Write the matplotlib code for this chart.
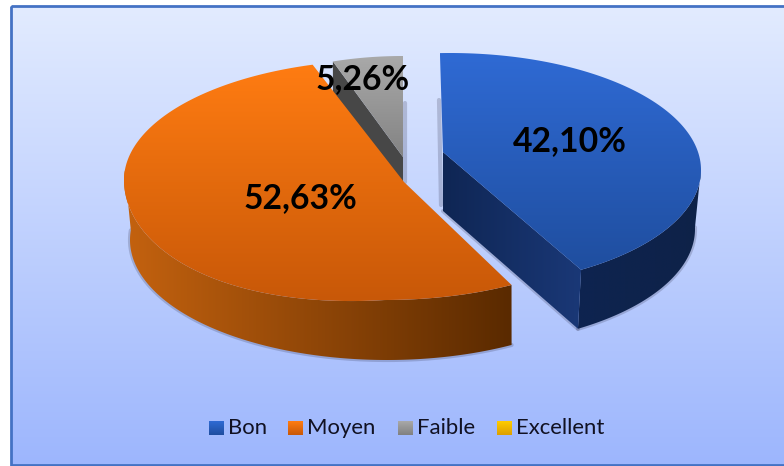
import matplotlib
matplotlib.use('Agg')
import matplotlib.pyplot as plt
from matplotlib.colors import to_rgb
from matplotlib.patches import Polygon, Rectangle
import numpy as np

labels = ['Bon', 'Moyen', 'Faible', 'Excellent']
shares = [42.10, 52.63, 5.26, 0.0]

plt.rcParams['font.family'] = ['Lato', 'DejaVu Sans']

W, H = 784, 466
fig = plt.figure(figsize=(W / 100, H / 100), dpi=100)
ax = fig.add_axes([0, 0, 1, 1])
ax.set_xlim(0, W)
ax.set_ylim(H, 0)
ax.axis('off')


def grad_fill(pts, c1, c2, vertical=True, z=1):
    # gradient image clipped by a polygon
    pts = np.asarray(pts)
    x0, x1 = pts[:, 0].min(), pts[:, 0].max()
    y0, y1 = pts[:, 1].min(), pts[:, 1].max()
    t = np.linspace(0, 1, 128)[:, None]
    img = np.array(to_rgb(c1)) * (1 - t) + np.array(to_rgb(c2)) * t
    img = img[:, None, :] if vertical else img[None, :, :]
    im = ax.imshow(img, extent=[x0, x1, y1, y0], aspect='auto', zorder=z, interpolation='bilinear')
    clip = Polygon(pts, closed=True, transform=ax.transData, fc='none', ec='none')
    ax.add_patch(clip)
    im.set_clip_path(clip)
    ax.set_xlim(0, W)
    ax.set_ylim(H, 0)


def rim(t0, t1, cx, cy, R, S, p0=0, s=1, bulge=0):
    # t in degrees clockwise from 12 o'clock, p0 and s fake the perspective of the disc
    p = p0 + s * np.linspace(t0, t1, 200)
    t = np.radians(p)
    y = cy - S * np.cos(t)
    # front left of the big slice sags a bit below the ellipse
    y = y + bulge * np.where((p > 180) & (p < 270), np.sin(2 * (t - np.pi)), 0)
    return np.column_stack([cx + R * np.sin(t), y])


def soft_edge(pts, z):
    ax.plot(pts[:, 0], pts[:, 1], color='#30304a', alpha=0.22, lw=3, zorder=z, solid_capstyle='round')


# slice angles from the shares
edges = np.cumsum([0] + shares) / sum(shares) * 360

# background panel
bg = [(11, 6), (W, 6), (W, 465), (11, 465)]
grad_fill(bg, '#e2ebff', '#9db6fd', z=0)
ax.add_patch(Rectangle((11, 6), W, 459, fc='none', ec='#4472c4', lw=2, zorder=0.5))

# Faible
g = dict(cx=403, cy=157, R=216, S=101)
g_rim = rim(edges[2], edges[3], **g)
apex = np.array([[403, 157]])
depth = 58
wall = np.vstack([apex, g_rim[:1], g_rim[:1] + [0, depth], apex + [0, depth]])
soft_edge(np.array([[405, 103], [405, 182]]), 1.5)
ax.add_patch(Polygon(wall, fc='#474747', ec='none', zorder=2))
grad_fill(np.vstack([apex, g_rim]), '#a9a9a9', '#838383', z=3)

# Moyen
m = dict(cx=385, cy=180, R=261, S=120, p0=-3.3, s=1.018)
m_low = dict(cx=387, cy=180, R=257, S=120, p0=-3.3, s=1.018)
m_rim = rim(edges[1], edges[2], bulge=8, **m)
front = rim(edges[1], 273, bulge=8, **m)
low = rim(edges[1], 273, **m_low) + [0, 60]
wall = np.vstack([front, low[::-1]])
soft_edge(low, 3.5)
grad_fill(wall, '#c4620f', '#5a2a00', vertical=False, z=4)
grad_fill(np.vstack([[404, 182], m_rim]), '#ff7c12', '#c85808', z=5)

# Bon
b = dict(cx=450, cy=170, R=251, S=117, p0=-2.3, s=0.995)
b_low = dict(cx=450, cy=170, R=245, S=117, p0=-2.3, s=0.995)
b_rim = rim(edges[0], edges[1], **b)
apex = np.array([[443, 152]])
depth = 59
front = rim(92, edges[1], **b)
low = rim(92, edges[1], **b_low) + [0, depth]
wall = np.vstack([front, low[::-1]])
soft_edge(low, 5.5)
soft_edge(np.array([[439, 100], [441, 205]]), 5.5)
grad_fill(wall, '#0e2450', '#0e2248', vertical=False, z=6)
corner = b_rim[-1:]
cut = np.vstack([apex, corner, low[-1:], apex + [0, depth]])
soft_edge(cut[2:], 5.5)
grad_fill(cut, '#0f2654', '#1a3877', vertical=False, z=7)
grad_fill(np.vstack([apex, b_rim]), '#2f6ad4', '#1f4e9f', z=8)

# value labels
label_pos = [(570, 141.5), (300, 198.5), (363, 79.5)]
for val, (x, y) in zip(shares, label_pos):
    ax.text(x, y, f'{val:.2f}%'.replace('.', ','), ha='center', va='center',
            fontsize=24.3, fontweight='bold', color='black', zorder=10)

# legend
swatches = [('#2f6ad4', '#1f4e9f'), ('#ff7c12', '#c85808'), ('#a9a9a9', '#808080'), ('#ffcc00', '#dc9f00')]
legend_x = [209, 288, 398, 497]
for name, (c1, c2), x in zip(labels, swatches, legend_x):
    grad_fill([(x, 421), (x + 15, 421), (x + 15, 435), (x, 435)], c1, c2, z=9)
    ax.text(x + 19, 428, name, ha='left', va='center', fontsize=15.9, color='#111122', zorder=10)

fig.savefig('out.png', dpi=100)
